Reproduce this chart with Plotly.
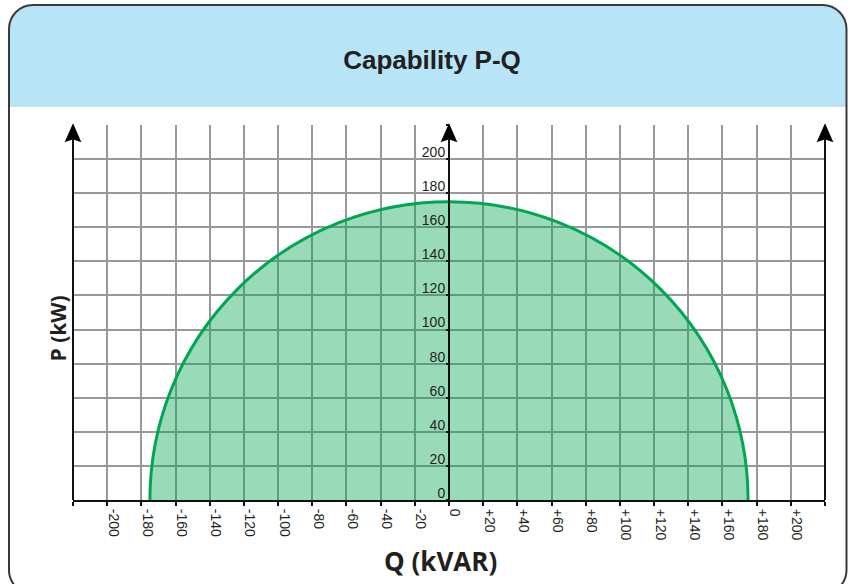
import plotly.graph_objects as go

# Reactive power axis (kVAR): gridlines every 20, labels with explicit sign
Q_TICKS = [-220, -200, -180, -160, -140, -120, -100, -80, -60, -40, -20, 0,
           20, 40, 60, 80, 100, 120, 140, 160, 180, 200, 220]
Q_LABELS = ["", "-200", "-180", "-160", "-140", "-120", "-100", "-80", "-60",
            "-40", "-20", "0", "+20", "+40", "+60", "+80", "+100", "+120",
            "+140", "+160", "+180", "+200", ""]
Q_RANGE = [-220, 220]

# Active power axis (kW)
P_TICKS = [0, 20, 40, 60, 80, 100, 120, 140, 160, 180, 200, 220]
P_LABELS = ["0", "20", "40", "60", "80", "100", "120", "140", "160", "180",
            "200", ""]
P_RANGE = [0, 220]

# Rated apparent power (kVA): radius of the capability semicircle
S_RATED = 175

W, H = 849, 584
M_L, M_R, M_T, M_B = 73, 24, 125, 84
PW, PH = W - M_L - M_R, H - M_T - M_B

TEXT = "#231f20"
GRID = "#999999"
INK = "#000000"


def paper(x, y):
    """Pixel position in the page -> paper coordinates of the plot area."""
    return (x - M_L) / PW, (H - M_B - y) / PH


def q_to_px(q):
    return M_L + (q - Q_RANGE[0]) / (Q_RANGE[1] - Q_RANGE[0]) * PW


def rounded_path(x0, y0, x1, y1, r, round_bottom=True):
    k = 0.5523 * r

    def P(x, y):
        px, py = paper(x, y)
        return f"{px:.5f},{py:.5f}"

    d = f"M {P(x0, y0 + r)} "
    d += f"C {P(x0, y0 + r - k)} {P(x0 + r - k, y0)} {P(x0 + r, y0)} "
    d += f"L {P(x1 - r, y0)} "
    d += f"C {P(x1 - r + k, y0)} {P(x1, y0 + r - k)} {P(x1, y0 + r)} "
    if round_bottom:
        d += f"L {P(x1, y1 - r)} "
        d += f"C {P(x1, y1 - r + k)} {P(x1 - r + k, y1)} {P(x1 - r, y1)} "
        d += f"L {P(x0 + r, y1)} "
        d += f"C {P(x0 + r - k, y1)} {P(x0, y1 - r + k)} {P(x0, y1 - r)} "
    else:
        d += f"L {P(x1, y1)} L {P(x0, y1)} "
    d += "Z"
    return d


def arrow_head(cx, tip_y, half_w=7, length=16, notch=2.5):
    pts = [(cx, tip_y), (cx + half_w, tip_y + length),
           (cx, tip_y + length - notch), (cx - half_w, tip_y + length)]
    d = "M " + " L ".join("{:.5f},{:.5f}".format(*paper(x, y)) for x, y in pts)
    return d + " Z"


fig = go.Figure()

# invisible trace so the subplot and its axes are built
fig.add_trace(go.Scatter(x=Q_RANGE, y=P_RANGE, mode="markers",
                         marker=dict(opacity=0), hoverinfo="skip",
                         showlegend=False))

shapes = [
    # header band
    dict(type="path", xref="paper", yref="paper", layer="below",
         path=rounded_path(9, 5, 846.5, 107, 24, round_bottom=False),
         fillcolor="#b8e4f8", line=dict(width=0)),
    # card border
    dict(type="path", xref="paper", yref="paper", layer="above",
         path=rounded_path(9, 5, 846.5, 594, 24),
         fillcolor="rgba(0,0,0,0)", line=dict(color="#3a3a3a", width=2)),
    # capability limit: circle of radius S_RATED, clipped to P >= 0
    dict(type="circle", xref="x", yref="y", layer="between",
         x0=-S_RATED, x1=S_RATED, y0=-S_RATED, y1=S_RATED,
         fillcolor="rgba(0,166,81,0.40)",
         line=dict(color="#00a651", width=3)),
]

# vertical axes with arrowheads: left edge, Q = 0, right edge
top_px = M_T
for qx in (Q_RANGE[0], 0, Q_RANGE[1]):
    cx = q_to_px(qx)
    xp = paper(cx, 0)[0]
    shapes.append(dict(type="line", xref="paper", yref="paper", layer="above",
                       x0=xp, x1=xp, y0=0, y1=paper(0, top_px + 12)[1],
                       line=dict(color="#111111", width=2)))
    shapes.append(dict(type="path", xref="paper", yref="paper", layer="above",
                       path=arrow_head(cx, top_px), fillcolor=INK, opacity=1,
                       line=dict(color=INK, width=1.5)))

annotations = [
    dict(text="Q (kVAR)", xref="paper", yref="paper",
         x=paper(440, 0)[0], y=paper(0, 561)[1], showarrow=False,
         xanchor="center", yanchor="middle",
         font=dict(family="Open Sans", size=26, color=TEXT, weight="bold")),
    dict(text="P (kW)", xref="paper", yref="paper", textangle=-90,
         x=paper(57.5, 0)[0], y=paper(0, 329)[1], showarrow=False,
         xanchor="center", yanchor="middle",
         font=dict(family="Open Sans", size=21, color=TEXT, weight="bold")),
]

fig.update_layout(
    width=W, height=H, autosize=False,
    margin=dict(l=M_L, r=M_R, t=M_T, b=M_B, pad=0),
    paper_bgcolor="white", plot_bgcolor="white",
    showlegend=False,
    title=dict(text="Capability P-Q", xref="container", yref="container",
               x=432 / W, y=1 - 60 / H, xanchor="center", yanchor="middle",
               font=dict(family="Liberation Sans", size=26, color=TEXT,
                         weight="bold")),
    shapes=shapes,
    annotations=annotations,
    xaxis=dict(
        range=Q_RANGE, tickmode="array", tickvals=Q_TICKS, ticktext=Q_LABELS,
        tickangle=90, ticks="outside", ticklen=4, tickwidth=1.5,
        tickcolor="#111111", ticklabelshift=6,
        showline=True, linecolor="#111111", linewidth=2,
        showgrid=True, gridcolor=GRID, gridwidth=1.5, zeroline=False,
        tickfont=dict(family="Liberation Sans", size=14, color=TEXT),
        fixedrange=True),
    yaxis=dict(
        range=P_RANGE, tickmode="array", tickvals=P_TICKS, ticktext=P_LABELS,
        anchor="free", position=0.5,
        ticks="outside", ticklen=3, tickwidth=1.5, tickcolor="#111111",
        ticklabelshift=-7, ticklabelstandoff=-2,
        showline=False, showgrid=True, gridcolor=GRID, gridwidth=1.5,
        zeroline=False,
        tickfont=dict(family="Liberation Sans", size=14, color=TEXT),
        fixedrange=True),
)

fig.write_html("out.html", config={"displayModeBar": False})
